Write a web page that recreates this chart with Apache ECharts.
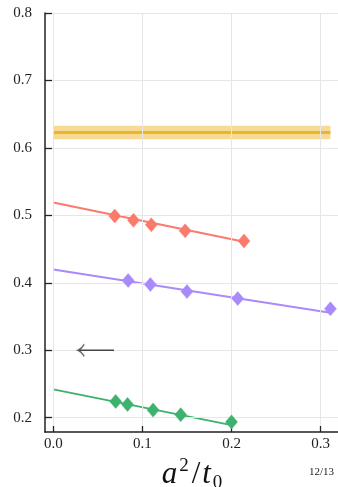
<!DOCTYPE html>
<html>
<head>
<meta charset="utf-8">
<script src="https://cdn.jsdelivr.net/npm/echarts@6/dist/echarts.min.js"></script>
<style>html,body{margin:0;padding:0;background:#fff}#c{width:338px;height:487px}</style>
</head>
<body>
<div id="c"></div>
<script>
// ---- data ----
var xTicks = [0.0, 0.1, 0.2, 0.3];
var yTicks = [0.2, 0.3, 0.4, 0.5, 0.6, 0.7, 0.8];

var bandX = [0.0, 0.311];
var bandCenter = 0.623;
var bandLow = 0.613;
var bandHigh = 0.633;

var redPoints = [[0.069, 0.499], [0.090, 0.4926], [0.110, 0.486], [0.148, 0.477], [0.214, 0.462]];
var redFit = [[0.0, 0.519], [0.214, 0.461]];

var purplePoints = [[0.084, 0.4034], [0.109, 0.3975], [0.150, 0.387], [0.207, 0.3767], [0.311, 0.3614]];
var purpleFit = [[0.0, 0.4197], [0.311, 0.3555]];

var greenPoints = [[0.070, 0.2242], [0.0833, 0.2197], [0.112, 0.2113], [0.143, 0.2045], [0.200, 0.1938]];
var greenFit = [[0.0, 0.242], [0.200, 0.189]];

var arrowLine = [[0.0292, 0.3], [0.0681, 0.3]];

var pageLabel = '12/13';

// ---- axis ranges ----
var xMin = -0.0093, xMax = 0.3195;
var yMin = 0.1788, yMax = 0.8;

// ---- style ----
var serif = '"Liberation Serif", "DejaVu Serif", serif';
var cRed = '#FA7B6C', cPurple = '#A98AFB', cGreen = '#3DB26E', cGold = '#EDB52C';
var gridLeft = 45, gridTop = 13, gridBottom = 55, W = 338, H = 487;
var tickPx = 7;

var chart = echarts.init(document.getElementById('c'));

var plotW = W - gridLeft, plotH = H - gridTop - gridBottom;
var xTickLen = tickPx * (xMax - xMin) / plotW;
var yTickLen = (tickPx - 1) * (yMax - yMin) / plotH;

function fit(data, color) {
  return { type: 'line', data: data, symbol: 'none', silent: true, z: 3,
    lineStyle: { color: color, width: 2 } };
}
function pts(data, color) {
  return { type: 'scatter', data: data, symbol: 'diamond', symbolSize: [12, 14], z: 6, silent: true,
    itemStyle: { color: color, borderColor: color, borderWidth: 0.5, opacity: 1 } };
}

var tickLines = yTicks.map(function (v) {
  return [{ coord: [xMin, v] }, { coord: [xMin + xTickLen, v] }];
}).concat(xTicks.map(function (v) {
  return [{ coord: [v, yMin] }, { coord: [v, yMin + yTickLen] }];
}));

chart.setOption({
  animation: false,
  grid: { left: gridLeft, top: gridTop, right: 0, bottom: gridBottom, containLabel: false, outerBoundsMode: 'none' },
  xAxis: {
    type: 'value', min: xMin, max: xMax,
    axisLine: { show: true, onZero: false, lineStyle: { color: '#222', width: 1.5 } },
    axisTick: { show: false },
    axisLabel: { customValues: xTicks, margin: 5, fontFamily: serif, fontSize: 15, color: '#222',
      formatter: function (v) { return v.toFixed(1); } },
    splitLine: { show: false },
    name: '{i|a}{sup|2}{n|/}{i|t}{sub|0}',
    nameLocation: 'middle', nameGap: 24,
    nameTextStyle: {
      rich: {
        i: { fontFamily: serif, fontStyle: 'italic', fontSize: 31, color: '#111', lineHeight: 36, verticalAlign: 'middle', padding: [0, 1, 0, 1] },
        n: { fontFamily: serif, fontSize: 31, color: '#111', lineHeight: 36, verticalAlign: 'middle', padding: [0, 1, 0, 1] },
        sup: { fontFamily: serif, fontSize: 19, color: '#111', verticalAlign: 'top', lineHeight: 36, padding: [0, 2, 0, 1] },
        sub: { fontFamily: serif, fontSize: 19, color: '#111', verticalAlign: 'bottom', lineHeight: 36, padding: [0, 0, 0, 1] }
      }
    }
  },
  yAxis: {
    type: 'value', min: yMin, max: yMax,
    axisLine: { show: true, onZero: false, lineStyle: { color: '#222', width: 1.5 } },
    axisTick: { show: false },
    axisLabel: { customValues: yTicks, margin: 13, fontFamily: serif, fontSize: 15, color: '#222',
      formatter: function (v) { return v.toFixed(1); } },
    splitLine: { show: false }
  },
  graphic: [
    { type: 'text', left: 309, top: 467, style: { text: pageLabel, fontFamily: serif, fontSize: 11, fill: '#222' } }
  ],
  series: [
    { type: 'line', data: [], silent: true, z: 1,
      markLine: { silent: true, symbol: 'none', label: { show: false },
        lineStyle: { color: '#e6e6e6', width: 1, type: 'solid' },
        data: xTicks.map(function (v) { return { xAxis: v }; }).concat(yTicks.map(function (v) { return { yAxis: v }; })) } },
    { type: 'line', data: [], silent: true, z: 8,
      markLine: { silent: true, symbol: 'none', label: { show: false },
        lineStyle: { color: '#222', width: 1.3, type: 'solid' },
        data: tickLines } },
    { type: 'line', data: bandX.map(function (x) { return [x, bandCenter]; }), symbol: 'none', silent: true, z: 3,
      lineStyle: { color: cGold, width: 3 },
      markArea: { silent: true, itemStyle: { color: 'rgba(240,190,60,0.55)' },
        data: [[{ coord: [bandX[0], bandLow] }, { coord: [bandX[1], bandHigh] }]] } },
    fit(redFit, cRed), pts(redPoints, cRed),
    fit(purpleFit, cPurple), pts(purplePoints, cPurple),
    fit(greenFit, cGreen), pts(greenPoints, cGreen),
    { type: 'line', data: arrowLine, silent: true, z: 5, symbol: 'none',
      lineStyle: { color: '#444', width: 1.6 } },
    { type: 'scatter', data: [arrowLine[0]], silent: true, z: 5,
      symbol: 'path://M6,0 Q3,4 0,5 Q3,6 6,10', symbolSize: [6, 12], symbolOffset: [2, 0],
      itemStyle: { color: 'none', borderColor: '#444', borderWidth: 1.4 } }
  ]
});
</script>
</body>
</html>
